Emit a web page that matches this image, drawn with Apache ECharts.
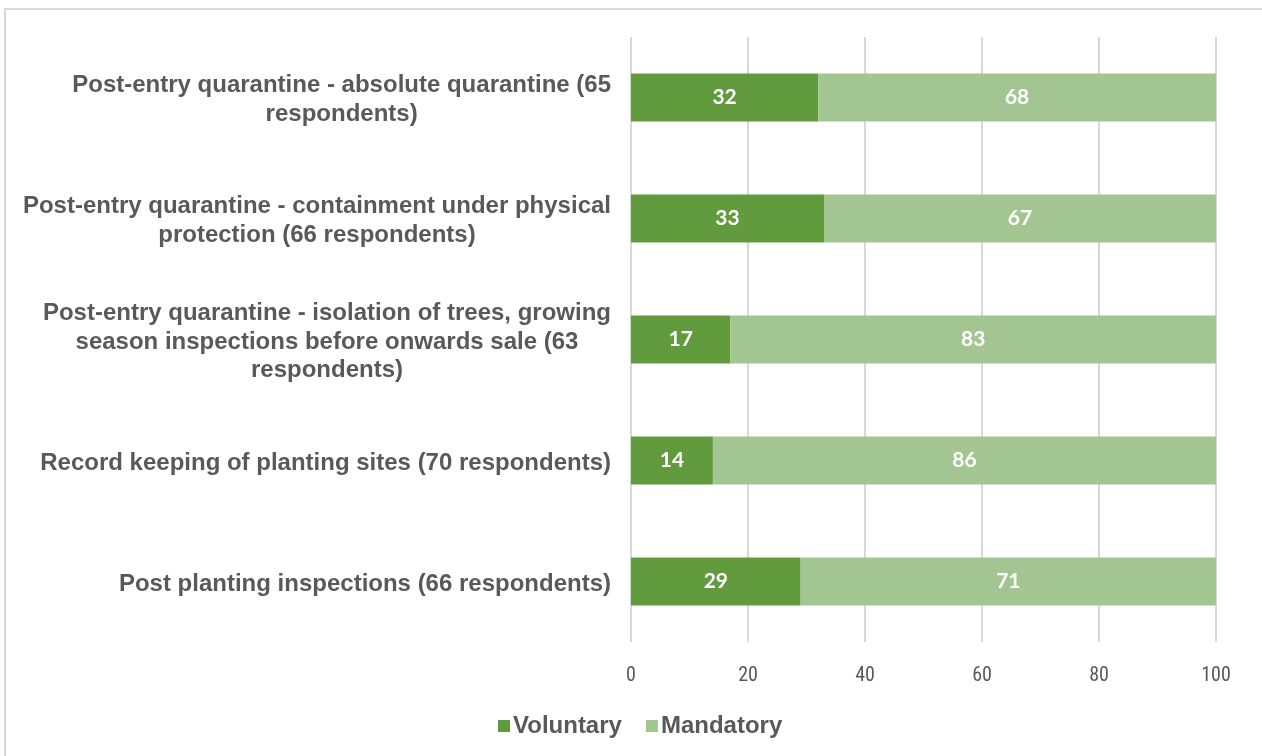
<!DOCTYPE html>
<html>
<head>
<meta charset="utf-8">
<script src="https://cdn.jsdelivr.net/npm/echarts@6/dist/echarts.min.js"></script>
<style>
  html, body { margin: 0; padding: 0; background: #fff; }
  #chart { width: 1262px; height: 756px; }
</style>
</head>
<body>
<div id="chart"></div>
<script>
// Measures, listed top to bottom
const categories = [
  'Post-entry quarantine - absolute quarantine (65\nrespondents)',
  'Post-entry quarantine - containment under physical\nprotection (66 respondents)',
  'Post-entry quarantine - isolation of trees, growing\nseason inspections before onwards sale (63\nrespondents)',
  'Record keeping of planting sites (70 respondents)',
  'Post planting inspections (66 respondents)'
];
const voluntary = [32, 33, 17, 14, 29];
const mandatory = [68, 67, 83, 86, 71];
const xTicks = { min: 0, max: 100, interval: 20 };

const chart = echarts.init(document.getElementById('chart'));

const barLabel = {
  show: true,
  position: 'inside',
  color: '#ffffff',
  fontFamily: 'Lato, "Open Sans", sans-serif',
  fontWeight: 'bold',
  fontSize: 21
};

chart.setOption({
  animation: false,
  backgroundColor: '#ffffff',
  graphic: [{
    type: 'rect',
    shape: { x: 5, y: 9, width: 1280, height: 780 },
    style: { fill: 'none', stroke: '#d9d9d9', lineWidth: 2 },
    silent: true
  }],
  grid: { left: 631, right: 46, top: 37, bottom: 114, containLabel: false },
  legend: {
    bottom: 13,
    left: 493,
    itemWidth: 12,
    itemHeight: 12,
    itemGap: 24,
    icon: 'rect',
    textStyle: {
      color: '#595959',
      fontFamily: '"Liberation Sans", Arial, sans-serif',
      fontWeight: 'bold',
      fontSize: 24,
      padding: [0, 0, 0, -2]
    },
    data: ['Voluntary', 'Mandatory']
  },
  xAxis: {
    type: 'value',
    min: xTicks.min,
    max: xTicks.max,
    interval: xTicks.interval,
    axisLine: { show: false },
    axisTick: { show: false },
    splitLine: { lineStyle: { color: '#d9d9d9', width: 2 } },
    axisLabel: {
      margin: 24,
      color: '#595959',
      fontFamily: '"Liberation Sans Narrow", "Roboto Condensed", "Liberation Sans", sans-serif',
      fontSize: 20
    }
  },
  yAxis: {
    type: 'category',
    inverse: true,
    data: categories,
    axisLine: { show: false },
    axisTick: { show: false },
    axisLabel: {
      margin: 20,
      lineHeight: 28.5,
      padding: [5, 0, 0, 0],
      formatter: v => '{c|' + v + '}',
      rich: {
        c: {
          align: 'center',
          color: '#595959',
          fontFamily: '"Liberation Sans", Arial, sans-serif',
          fontWeight: 'bold',
          fontSize: 24,
          lineHeight: 28.5
        }
      }
    }
  },
  series: [
    {
      name: 'Voluntary',
      type: 'bar',
      stack: 'total',
      barWidth: 48,
      itemStyle: { color: '#629B3E' },
      label: barLabel,
      data: voluntary
    },
    {
      name: 'Mandatory',
      type: 'bar',
      stack: 'total',
      barWidth: 48,
      itemStyle: { color: '#A3C592' },
      label: barLabel,
      data: mandatory
    }
  ]
});
</script>
</body>
</html>
